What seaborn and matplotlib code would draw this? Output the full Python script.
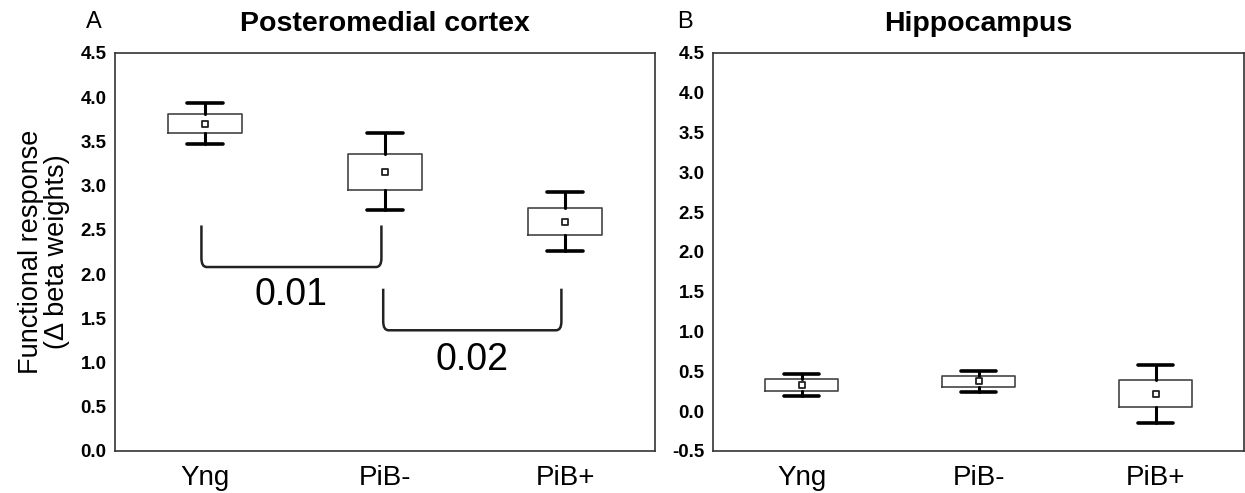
import numpy as np
import pandas as pd
import seaborn as sns
import matplotlib.pyplot as plt
from matplotlib.path import Path
from matplotlib.patches import PathPatch

categories = ["Yng", "PiB-", "PiB+"]

# Panel A: Posteromedial cortex (mean, +-SE box, +-1.96SE whiskers)
pmc_mean = [3.70, 3.15, 2.59]
pmc_box_lo = [3.60, 2.95, 2.44]
pmc_box_hi = [3.81, 3.36, 2.75]
pmc_wh_lo = [3.475, 2.72, 2.26]
pmc_wh_hi = [3.94, 3.60, 2.93]

# Panel B: Hippocampus
hip_mean = [0.33, 0.38, 0.21]
hip_box_lo = [0.26, 0.31, 0.05]
hip_box_hi = [0.40, 0.445, 0.39]
hip_wh_lo = [0.19, 0.24, -0.15]
hip_wh_hi = [0.465, 0.51, 0.585]

# significance brackets (panel A)
br_x0 = [-0.02, 0.99]
br_x1 = [0.98, 1.98]
br_top = [2.55, 1.835]
br_bot = [2.08, 1.365]
br_text = ["0.01", "0.02"]
br_text_y = [1.76, 1.03]

sns.set_style("white")
plt.rcParams['font.family'] = ['Liberation Sans', 'DejaVu Sans']
plt.rcParams.update({"text.color": "black", "axes.labelcolor": "black",
                     "xtick.color": "black", "ytick.color": "black"})

fig = plt.figure(figsize=(12.45, 4.93), dpi=100)
axA = fig.add_axes([0.0924, 0.0852, 0.4337, 0.8073])
axB = fig.add_axes([0.5727, 0.0852, 0.4265, 0.8073])


def draw_panel(ax, means, blo, bhi, wlo, whi, ylim, yticks, title):
    stats = []
    for c, m, a, b, lo, hi in zip(categories, means, blo, bhi, wlo, whi):
        stats.append(dict(label=c, med=m, q1=a, q3=b, whislo=lo, whishi=hi, fliers=[]))
    ax.bxp(stats, positions=range(len(categories)), widths=0.41, showfliers=False,
           boxprops=dict(color="#444444", linewidth=1.2),
           medianprops=dict(linewidth=0),
           whiskerprops=dict(color="black", linewidth=2.2),
           capprops=dict(color="black", linewidth=2.6),
           capwidths=0.2)
    df = pd.DataFrame({"x": range(len(categories)), "y": means})
    sns.scatterplot(data=df, x="x", y="y", marker="s", s=22, color="white",
                    edgecolor="#222222", linewidth=1.3, ax=ax, zorder=5)
    ax.set_xlim(-0.5, 2.5)
    ax.set_ylim(*ylim)
    ax.set_yticks(yticks)
    ax.set_yticklabels([f"{t:.1f}" for t in yticks], fontweight="bold")
    ax.set_xticks(range(len(categories)))
    ax.set_xticklabels(categories)
    ax.set_xlabel("")
    ax.set_ylabel("")
    ax.tick_params(axis="y", length=2, direction="in", labelsize=13.5, pad=6, color="#555555")
    ax.tick_params(axis="x", length=2, direction="in", labelsize=20, pad=10, color="#555555")
    for s in ax.spines.values():
        s.set_visible(True)
        s.set_color("#333333")
        s.set_linewidth(1.2)
    ax.set_title(title, fontsize=20.5, fontweight="bold", pad=16)


draw_panel(axA, pmc_mean, pmc_box_lo, pmc_box_hi, pmc_wh_lo, pmc_wh_hi,
           (0.0, 4.5), np.arange(0.0, 4.51, 0.5), "Posteromedial cortex")
draw_panel(axB, hip_mean, hip_box_lo, hip_box_hi, hip_wh_lo, hip_wh_hi,
           (-0.5, 4.5), np.arange(-0.5, 4.51, 0.5), "Hippocampus")

for x0, x1, yt, yb, t, ty in zip(br_x0, br_x1, br_top, br_bot, br_text, br_text_y):
    dx, dy = 0.03, 0.1
    verts = [(x0, yt), (x0, yb + dy), (x0, yb), (x0 + dx, yb), (x1 - dx, yb),
             (x1, yb), (x1, yb + dy), (x1, yt)]
    codes = [Path.MOVETO, Path.LINETO, Path.CURVE3, Path.CURVE3, Path.LINETO,
             Path.CURVE3, Path.CURVE3, Path.LINETO]
    axA.add_patch(PathPatch(Path(verts, codes), fill=False, edgecolor="#222222", linewidth=1.8))
    axA.text((x0 + x1) / 2, ty, t, ha="center", va="center", fontsize=27)

axA.set_ylabel("Functional response\n(Δ beta weights)", fontsize=19.5, labelpad=8, linespacing=1.0)

fig.text(0.069, 0.956, "A", fontsize=17, ha="left", va="center")
fig.text(0.544, 0.956, "B", fontsize=17, ha="left", va="center")

fig.savefig("out.png", dpi=100)
